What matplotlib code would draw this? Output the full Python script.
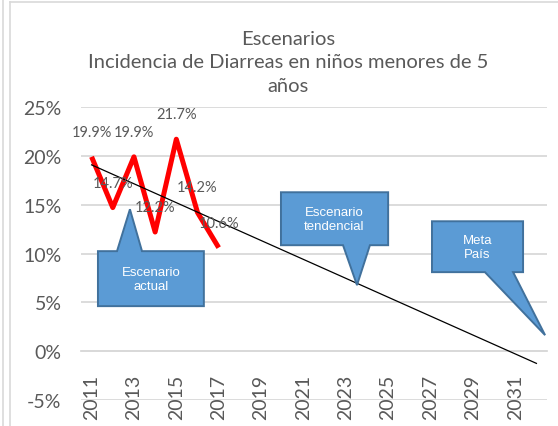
import numpy as np
import matplotlib.pyplot as plt
from matplotlib.patches import Polygon
from matplotlib.lines import Line2D
from matplotlib.ticker import FuncFormatter

plt.rcParams['font.family'] = ['Lato', 'DejaVu Sans']

years = list(range(2011, 2033))
hist_years = [2011, 2012, 2013, 2014, 2015, 2016, 2017]
incidencia = [19.9, 14.7, 19.9, 12.2, 21.7, 14.2, 10.6]

gray_text = '#595959'
grid_color = '#d9d9d9'
fill_blue = '#5b9bd5'
edge_blue = '#41719c'

fig = plt.figure(figsize=(5.58, 4.27), dpi=100)
ax = fig.add_axes([81 / 558, 1 - 401 / 427, 466 / 558, 293 / 427])

x_all = np.arange(len(years))
x_hist = np.array([years.index(y) for y in hist_years])

# category axis crosses at 0%
for s in ['top', 'right', 'left']:
    ax.spines[s].set_visible(False)
ax.spines['bottom'].set_position(('data', 0))
ax.spines['bottom'].set_color(grid_color)
ax.spines['bottom'].set_linewidth(1.3)

# actual series
ax.plot(x_hist, incidencia, color='#ff0000', lw=3.6, solid_joinstyle='round',
        solid_capstyle='butt', zorder=3)
for xi, v in zip(x_hist, incidencia):
    ax.annotate(f"{v:.1f}%", (xi, v), xytext=(0, 18), textcoords='offset points',
                ha='center', va='center', fontsize=10.5, color=gray_text, zorder=5)

# linear trend extended to 2032
slope, intercept = np.polyfit(x_hist, incidencia, 1)
ax.plot(x_all, intercept + slope * x_all, color='black', lw=0.9, zorder=4)

ax.set_xlim(-0.5, len(years) - 0.5)
ax.set_ylim(-5, 25)
ax.set_yticks(np.arange(-5, 26, 5))
ax.yaxis.set_major_formatter(FuncFormatter(lambda v, p: f"{v:.0f}%"))
ax.set_xticks(x_all[::2])
ax.set_xticklabels([str(y) for y in years[::2]])
ax.grid(axis='y', color=grid_color, lw=1.3)
ax.set_axisbelow(True)
ax.tick_params(axis='y', length=0, pad=14, labelsize=14, labelcolor=gray_text)
ax.tick_params(axis='x', length=0, pad=16, labelsize=14, labelcolor=gray_text,
               labelrotation=90)


def callout(box, base, tip, text):
    x0, x1, y0, y1 = box
    b0, b1, by = base
    if by == y1:
        pts = [(x0, y0), (x1, y0), (x1, y1), (b1, y1), tip, (b0, y1), (x0, y1)]
    else:
        pts = [(x0, y0), (b0, y0), tip, (b1, y0), (x1, y0), (x1, y1), (x0, y1)]
    ax.add_patch(Polygon(pts, closed=True, facecolor=fill_blue, edgecolor=edge_blue,
                         lw=1.4, zorder=6, clip_on=False))
    ax.text((x0 + x1) / 2, (y0 + y1) / 2, text, ha='center', va='center',
            color='white', fontsize=9.5, family='Liberation Sans',
            linespacing=1.25, zorder=7)


callout((0.30, 5.30, 4.61, 10.24), (1.20, 2.38, 10.24), (1.81, 14.53),
        "Escenario\nactual")
callout((8.94, 14.0, 10.85, 16.27), (11.87, 13.14, 10.85), (12.53, 6.76),
        "Escenario\ntendencial")
callout((16.07, 20.37, 8.09, 13.3), (18.57, 19.9, 8.09), (21.41, 1.64),
        "Meta\nPaís")

fig.text(288 / 558, 1 - 63 / 427,
         "Escenarios\nIncidencia de Diarreas en niños menores de 5\naños",
         ha='center', va='center', fontsize=14.5, color=gray_text, linespacing=1.45)

# chart border
border = dict(color=grid_color, lw=1.2, transform=fig.transFigure)
fig.add_artist(Line2D([10 / 558, 10 / 558], [0, 1 - 3 / 427], **border))
fig.add_artist(Line2D([10 / 558, 1], [1 - 3 / 427, 1 - 3 / 427], **border))
fig.add_artist(Line2D([3 / 558, 3 / 558], [0, 1], **border))

fig.savefig('out.png', dpi=100)
